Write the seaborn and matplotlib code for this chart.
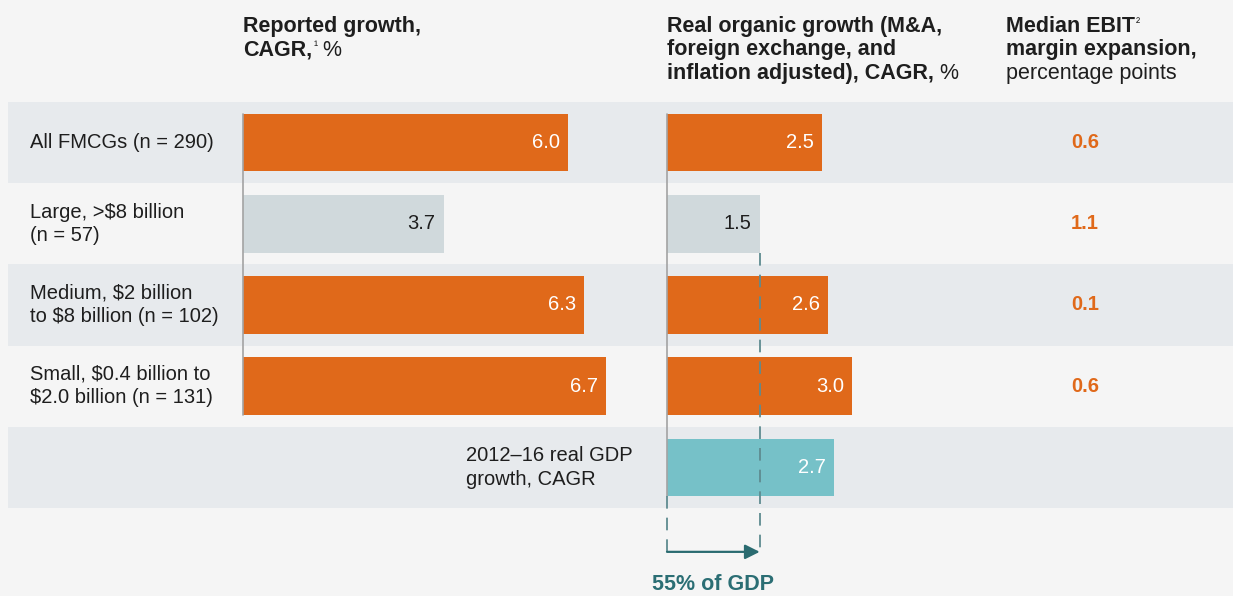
import pandas as pd
import matplotlib
matplotlib.use("Agg")
import matplotlib.pyplot as plt
import matplotlib.transforms as mtransforms
import seaborn as sns

# data
segments = ["All FMCGs (n = 290)",
            "Large, >\\$8 billion\n(n = 57)",
            "Medium, \\$2 billion\nto \\$8 billion (n = 102)",
            "Small, \\$0.4 billion to\n\\$2.0 billion (n = 131)"]
reported = [6.0, 3.7, 6.3, 6.7]
organic = [2.5, 1.5, 2.6, 3.0]
gdp_label = "2012–16 real GDP\ngrowth, CAGR"
gdp_growth = 2.7
ebit = [0.6, 1.1, 0.1, 0.6]
gdp_share = "55% of GDP"

ORANGE = "#e0691a"
GREY_BAR = "#d0d9dc"
TEAL = "#76c1c8"
BAND = "#e7eaed"
BG = "#f5f5f5"
INK = "#1e1e1e"
bar_colors = [ORANGE, GREY_BAR, ORANGE, ORANGE]

sns.set_style("white")
plt.rcParams["font.family"] = ["Liberation Sans", "DejaVu Sans"]

W, H = 1233, 596
fig = plt.figure(figsize=(W / 100, H / 100), dpi=100, facecolor=BG)

# background axes in pixel coordinates
bg = fig.add_axes([0, 0, 1, 1])
bg.set_xlim(0, W)
bg.set_ylim(H, 0)
bg.set_axis_off()

top, row_h = 102, 81.2
for i in range(0, 5, 2):
    bg.add_patch(plt.Rectangle((8, top + i * row_h), W - 8, row_h,
                               color=BAND, lw=0))


def bar_axes(left_px, px_per_unit, xmax):
    ax = fig.add_axes([left_px / W, 1 - (top + 5 * row_h) / H,
                       px_per_unit * xmax / W, 5 * row_h / H])
    ax.set_xlim(0, xmax)
    return ax


ax_rep = bar_axes(243, 54.2, 7)
ax_org = bar_axes(667, 61.8, 3.5)

rep_df = pd.DataFrame({"segment": segments, "value": reported})
org_df = pd.DataFrame({"segment": segments + [gdp_label],
                       "value": organic + [gdp_growth]})

sns.barplot(data=rep_df, x="value", y="segment", hue="segment",
            palette=bar_colors, order=segments, orient="h", width=0.71,
            saturation=1, legend=False, linewidth=0, edgecolor="none",
            ax=ax_rep)
sns.barplot(data=org_df, x="value", y="segment", hue="segment",
            palette=bar_colors + [TEAL], order=segments + [gdp_label],
            orient="h", width=0.71, saturation=1, legend=False,
            linewidth=0, edgecolor="none", ax=ax_org)

for ax, vals in [(ax_rep, reported), (ax_org, organic + [gdp_growth])]:
    ax.set_ylim(4.5, -0.5)
    ax.set_xlim(ax.get_xlim())
    ax.set_axis_off()
    for i, v in enumerate(vals):
        col = INK if (i < 4 and bar_colors[i] == GREY_BAR) else "white"
        ax.annotate(f"{v:.1f}", xy=(v, i), xytext=(-8, 0),
                    textcoords="offset pixels", ha="right", va="center",
                    fontsize=14.5, color=col)

# baselines
ax_rep.plot([0, 0], [-0.355, 3.355], color="#a3a3a3", lw=1.2, clip_on=False)
ax_org.plot([0, 0], [-0.355, 4.355], color="#a3a3a3", lw=1.2, clip_on=False)
dash = dict(color="#5e8b90", lw=1.3, dashes=(7, 5), clip_on=False)
ax_org.plot([0, 0], [4.355, 5.08], **dash)
ax_org.plot([organic[1], organic[1]], [1.36, 5.08], **dash)
ax_org.annotate("", xy=(organic[1], 5.04), xytext=(0, 5.04),
                arrowprops=dict(arrowstyle="-|>", color="#2a6b70", lw=1.6,
                                mutation_scale=22, shrinkA=0, shrinkB=0),
                annotation_clip=False)
ax_org.text(organic[1] / 2, 5.44, gdp_share, ha="center", va="center",
            fontsize=15.5, fontweight="bold", color="#2b6e74", clip_on=False)

# row labels and EBIT column
tr = mtransforms.blended_transform_factory(bg.transData, ax_rep.transData)
for i, lab in enumerate(segments):
    bg.text(30, i, lab, transform=tr, ha="left", va="center",
            fontsize=14.5, color=INK, linespacing=1.3)
    bg.text(1085, i, f"{ebit[i]:.1f}", transform=tr, ha="center",
            va="center", fontsize=14.5, fontweight="bold", color=ORANGE)
bg.text(466, 4, gdp_label, transform=tr, ha="left", va="center",
        fontsize=14.5, color=INK, linespacing=1.3)

# column headers


def sup(prev, text):
    return bg.annotate(text, xy=(1, 1), xycoords=prev, xytext=(1, -2),
                       textcoords="offset pixels", ha="left", va="top",
                       fontsize=9, color=INK)


def follow(xref, yref, text, weight="normal"):
    return bg.annotate(text, xy=(1, 0), xycoords=(xref, yref), ha="left",
                       va="bottom", fontsize=15.5, fontweight=weight,
                       color=INK)


def header(x, y, text, weight="bold"):
    return bg.text(x, y, text, ha="left", va="baseline", fontsize=15.5,
                   fontweight=weight, color=INK)


baselines = [32, 55.5, 79]
header(243, baselines[0], "Reported growth,")
t = header(243, baselines[1], "CAGR,")
s = sup(t, "¹")
follow(s, t, " %")

header(667, baselines[0], "Real organic growth (M&A,")
header(667, baselines[1], "foreign exchange, and")
t = header(667, baselines[2], "inflation adjusted), CAGR,")
follow(t, t, " %")

t = header(1006, baselines[0], "Median EBIT")
sup(t, "²")
header(1006, baselines[1], "margin expansion,")
header(1006, baselines[2], "percentage points", weight="normal")

fig.savefig("out.png", dpi=100, facecolor=BG)
